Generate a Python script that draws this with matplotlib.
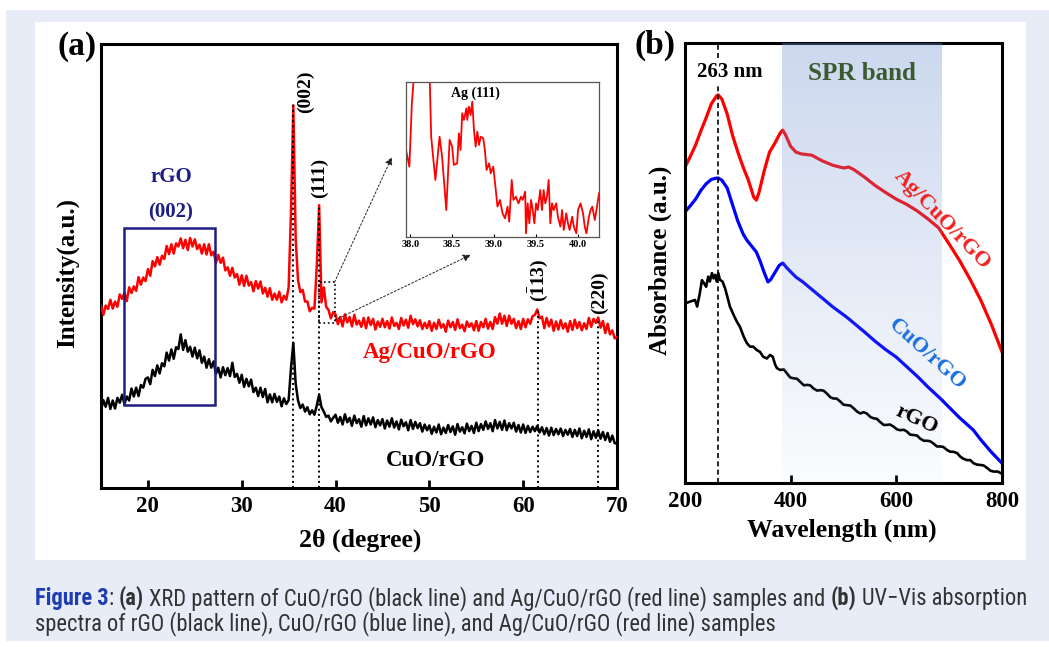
import numpy as np
import matplotlib
matplotlib.use("Agg")
import matplotlib.pyplot as plt
from matplotlib.patches import Rectangle
from matplotlib import font_manager as fm

# ---------------- data ----------------
two_theta = np.round(np.arange(15.0, 70.001, 0.25), 2)

xrd_ag_cuo_rgo = [
    .410, .390, .411, .403, .424, .404, .420, .408, .436, .426, .440, .421, .452, .439, .454, .444, .475, .458, .474, .466,
    .493, .478, .511, .499, .520, .503, .523, .516, .545, .527, .549, .528, .551, .544, .562, .540, .559, .536, .563, .544,
    .560, .538, .548, .528, .549, .526, .549, .524, .532, .507, .525, .507, .519, .490, .497, .478, .496, .474, .482, .458,
    .479, .455, .478, .456, .464, .443, .466, .449, .465, .438, .451, .431, .450, .424, .438, .424, .442, .418, .433, .424,
    .452, .620, .862, .560, .468, .441, .446, .420, .420, .398, .406, .404, .500, .637, .418, .452, .408, .401, .382, .396,
    .391, .369, .385, .364, .391, .373, .385, .364, .390, .368, .377, .363, .383, .360, .384, .367, .381, .357, .375, .363,
    .381, .362, .376, .359, .384, .365, .372, .358, .383, .366, .379, .361, .388, .369, .380, .364, .378, .358, .372, .360,
    .376, .354, .372, .358, .379, .361, .369, .352, .377, .362, .374, .356, .380, .360, .368, .353, .375, .363, .371, .355,
    .376, .354, .374, .362, .381, .359, .374, .358, .385, .370, .393, .370, .388, .365, .388, .370, .381, .360, .376, .358,
    .381, .362, .380, .370, .387, .390, .402, .382, .386, .360, .383, .364, .379, .354, .375, .357, .378, .359, .371, .352,
    .376, .356, .379, .360, .374, .355, .371, .358, .383, .363, .381, .372, .384, .361, .376, .349, .370, .346, .355, .337,
    .340]

xrd_cuo_rgo = [
    .175, .198, .183, .203, .178, .197, .179, .203, .192, .210, .189, .206, .197, .224, .206, .226, .207, .232, .226, .246,
    .249, .234, .266, .252, .276, .258, .281, .274, .305, .287, .312, .291, .317, .313, .346, .311, .333, .307, .318, .296,
    .316, .292, .310, .282, .296, .271, .290, .271, .285, .257, .271, .249, .272, .254, .270, .252, .282, .250, .257, .237,
    .255, .228, .246, .229, .244, .216, .226, .207, .226, .205, .223, .193, .211, .193, .212, .194, .206, .184, .202, .189,
    .198, .270, .327, .235, .197, .180, .188, .172, .182, .166, .175, .165, .186, .210, .182, .172, .160, .163, .150, .158,
    .165, .147, .160, .143, .166, .148, .158, .140, .163, .146, .155, .138, .162, .141, .157, .143, .159, .137, .153, .141,
    .155, .134, .152, .138, .157, .136, .150, .132, .154, .139, .148, .130, .153, .133, .149, .135, .146, .127, .143, .130,
    .141, .122, .138, .125, .143, .121, .136, .124, .142, .126, .139, .120, .144, .127, .137, .123, .145, .128, .140, .124,
    .147, .128, .144, .131, .150, .133, .146, .128, .153, .134, .149, .131, .152, .130, .146, .134, .147, .127, .142, .125,
    .143, .124, .140, .126, .138, .128, .140, .125, .137, .121, .135, .118, .136, .119, .133, .121, .134, .117, .131, .120,
    .133, .115, .131, .117, .134, .112, .129, .115, .132, .110, .128, .113, .130, .111, .126, .108, .124, .104, .118, .101,
    .100]

inset_2theta = [
    37.95, 37.99, 38.02, 38.05, 38.23, 38.25, 38.30, 38.35, 38.38, 38.43,
    38.47, 38.50, 38.52, 38.56, 38.58, 38.60, 38.62, 38.64, 38.67, 38.68,
    38.70, 38.72, 38.74, 38.76, 38.78, 38.80, 38.82, 38.84, 38.87, 38.89,
    38.91, 38.94, 38.96, 38.99, 39.02, 39.04, 39.07, 39.10, 39.13, 39.16,
    39.18, 39.21, 39.23, 39.26, 39.29, 39.32, 39.34, 39.37, 39.38, 39.40,
    39.42, 39.44, 39.46, 39.48, 39.50, 39.52, 39.55, 39.57, 39.59, 39.61,
    39.63, 39.65, 39.67, 39.69, 39.71, 39.74, 39.76, 39.79, 39.81, 39.83,
    39.86, 39.88, 39.90, 39.93, 39.95, 39.98, 40.00, 40.03, 40.06, 40.08,
    40.10, 40.13, 40.15, 40.17, 40.20, 40.22, 40.25]
inset_ag = [
    .561, .454, .862, 1.08, 1.08, .647, .368, .647, .518, .174,
    .626, .583, .465, .475, .669, .561, .798, .755, .830, .755,
    .841, .787, .873, .690, .583, .680, .594, .647, .637, .561,
    .432, .475, .411, .454, .303, .196, .239, .153, .120, .196,
    .099, .368, .239, .260, .217, .260, .239, .292, .024, .217,
    .088, .239, .174, .088, .217, .174, .303, .174, .303, .217,
    .260, .368, .088, .217, .174, .217, .131, .067, .174, .045,
    .153, .088, .045, .131, .067, .024, .174, .217, .153, .067,
    .024, .131, .174, .196, .110, .174, .282]

peak_pos = [35.5, 38.25, 61.6, 68.0]
peak_top = [0.862, 0.637, 0.400, 0.384]
peak_labels = ['(002)', '(111)', r'$\mathbf{(\bar{1}13)}$', '(220)']
xrd_ticks = [20, 30, 40, 50, 60, 70]
inset_ticks = [38.0, 38.5, 39.0, 39.5, 40.0]

uv_red_wl = [200, 210, 220, 230, 240, 250, 260, 263, 270, 280,
             290, 300, 310, 320, 330, 335, 340, 350, 360, 370,
             380, 385, 390, 400, 410, 420, 440, 460, 480, 500,
             510, 520, 540, 560, 580, 600, 620, 640, 660, 680,
             700, 720, 740, 760, 780, 800]
uv_red = [.718, .742, .768, .800, .830, .862, .880, .882, .872, .838,
          .790, .752, .718, .688, .650, .643, .660, .710, .752, .772,
          .795, .802, .792, .765, .752, .748, .745, .732, .722, .716,
          .718, .712, .695, .676, .660, .645, .633, .618, .600, .580,
          .543, .505, .462, .415, .360, .298]

uv_blue_wl = [200, 210, 220, 230, 240, 250, 260, 263, 270, 280,
              290, 300, 310, 317, 325, 335, 342, 350, 357, 362,
              370, 378, 385, 392, 400, 410, 423, 440, 460, 480,
              506, 520, 540, 560, 580, 600, 620, 640, 660, 686,
              700, 720, 746, 760, 780, 800]
uv_blue = [.616, .630, .645, .665, .680, .690, .693, .693, .688, .670,
           .632, .595, .566, .552, .540, .525, .505, .478, .457, .462,
           .478, .494, .500, .490, .480, .468, .457, .440, .420, .400,
           .377, .363, .343, .322, .303, .286, .264, .242, .218, .189,
           .172, .148, .120, .098, .070, .045]

uv_black_wl = [200, 209, 219, 223, 228, 232, 236, 240, 244, 247,
               251, 254, 257, 260, 263, 266, 271, 276, 280, 285,
               292, 298, 304, 311, 317, 323, 329, 336, 342, 348,
               355, 361, 366, 371, 374, 380, 387, 393, 399, 405,
               412, 418, 425, 431, 437, 443, 450, 456, 462, 468,
               475, 481, 487, 494, 500, 506, 513, 519, 526, 532,
               538, 544, 551, 557, 563, 569, 576, 582, 588, 595,
               601, 607, 614, 620, 626, 633, 639, 645, 652, 658,
               664, 670, 677, 683, 689, 696, 702, 708, 715, 721,
               727, 734, 740, 746, 752, 759, 765, 772, 778, 784,
               792, 800]
uv_black = [.408, .412, .416, .401, .431, .461, .454, .446, .469, .458,
            .477, .465, .473, .458, .477, .462, .458, .442, .424, .401,
            .382, .367, .355, .333, .318, .310, .310, .302, .298, .287,
            .283, .291, .287, .268, .261, .257, .258, .249, .240, .238,
            .237, .230, .222, .223, .222, .215, .210, .211, .210, .204,
            .195, .192, .192, .185, .178, .177, .176, .170, .162, .158,
            .161, .158, .150, .147, .146, .139, .132, .132, .133, .128,
            .122, .120, .121, .117, .110, .109, .108, .101, .096, .096,
            .095, .090, .083, .083, .082, .075, .071, .071, .068, .060,
            .055, .052, .052, .045, .042, .041, .040, .034, .028, .026,
            .026, .021]
uv_ticks = [200, 400, 600, 800]
spr_band = (384, 686)
peak_263 = 263

assert len(xrd_ag_cuo_rgo) == len(two_theta) == len(xrd_cuo_rgo)

# ---------------- style ----------------
W, H = 1049, 647
SERIF = ['Liberation Serif', 'DejaVu Serif']
plt.rcParams['font.family'] = SERIF
plt.rcParams['mathtext.fontset'] = 'custom'
plt.rcParams['mathtext.rm'] = 'Liberation Serif'
plt.rcParams['mathtext.bf'] = 'Liberation Serif:bold'
NAVY = '#1e1e82'
RED = '#ff0000'
BLUE = '#0000ff'

fig = plt.figure(figsize=(W / 100, H / 100), dpi=100)
fig.patch.set_facecolor('white')


def fx(px):
    return px / W


def fy(py):
    return 1 - py / H


def px_rect(x0, y0, x1, y1, color, z):
    r = Rectangle((fx(x0), fy(y1)), (x1 - x0) / W, (y1 - y0) / H,
                  transform=fig.transFigure, facecolor=color,
                  edgecolor='none', zorder=z)
    fig.add_artist(r)


px_rect(6, 10, W, 641, '#e8ecf6', -20)
px_rect(35, 22, 1026, 560, 'white', -19)


def style_axes(ax, ticks, fs=16.5):
    for s in ax.spines.values():
        s.set_linewidth(2.2)
        s.set_color('black')
    ax.set_xticks(ticks)
    ax.set_xticklabels([str(t) for t in ticks], fontsize=fs, fontweight='bold')
    ax.set_yticks([])
    ax.tick_params(axis='x', direction='in', length=6, width=2, pad=6,
                   top=False)
    ax.set_facecolor('none')


# ---------------- panel (a) ----------------
ax1 = fig.add_axes([fx(101), fy(488), 516 / W, 444 / H])
ax1.plot(two_theta, xrd_ag_cuo_rgo, color=RED, lw=1.8, zorder=3)
ax1.plot(two_theta, xrd_cuo_rgo, color='black', lw=1.8, zorder=3)
ax1.vlines(peak_pos, 0, peak_top, colors='black', linestyles=':', lw=1.4,
           zorder=4)
lab_pos = [(36.8, 0.892), (38.3, 0.698), (61.6, 0.468), (68.1, 0.441)]
for (lx, ly), lab in zip(lab_pos, peak_labels):
    ax1.text(lx, ly, lab, rotation=90, ha='center', va='center',
             fontsize=14, fontweight='bold')
ax1.add_patch(Rectangle((17.4, 0.187), 9.8, 0.399, fill=False,
                        edgecolor=NAVY, lw=1.8, zorder=5))
ax1.text(22.45, 0.700, 'rGO', color=NAVY, fontsize=15, fontweight='bold',
         ha='center', va='center')
ax1.text(22.45, 0.620, '(002)', color=NAVY, fontsize=15, fontweight='bold',
         ha='center', va='center')
ax1.add_patch(Rectangle((38.2, 0.372), 1.7, 0.092, fill=False,
                        edgecolor='black', lw=1.2, ls=':', zorder=5))
arrow_kw = dict(arrowstyle='-|>', ls=(0, (2, 2)), lw=0.7, color='#222222',
                mutation_scale=11, shrinkA=0, shrinkB=0)
ax1.annotate('', xy=(46.0, 0.745), xytext=(39.9, 0.464), arrowprops=arrow_kw)
ax1.annotate('', xy=(54.4, 0.525), xytext=(39.9, 0.378), arrowprops=arrow_kw)
ax1.text(50.0, 0.306, 'Ag/CuO/rGO', color=RED, fontsize=16.5,
         fontweight='bold', ha='center', va='center')
ax1.text(50.7, 0.061, 'CuO/rGO', color='black', fontsize=16.5,
         fontweight='bold', ha='center', va='center')
ax1.set_xlim(15, 70)
ax1.set_ylim(0, 1)
style_axes(ax1, xrd_ticks)

# inset
axi = fig.add_axes([fx(406), fy(237), 193 / W, 155 / H])
axi.plot(inset_2theta, inset_ag, color=RED, lw=1.3)
axi.set_xlim(37.95, 40.25)
axi.set_ylim(0, 1)
axi.set_xticks(inset_ticks)
axi.set_xticklabels(['%.1f' % t for t in inset_ticks], fontsize=7.5,
                    fontweight='bold')
axi.set_yticks([])
axi.tick_params(axis='x', direction='in', length=2, width=0.8, pad=2)
for s in axi.spines.values():
    s.set_linewidth(0.9)
    s.set_color('#555555')
axi.text(38.78, 0.93, 'Ag (111)', fontsize=10, fontweight='bold',
         ha='center', va='center')

# ---------------- panel (b) ----------------
ax2 = fig.add_axes([fx(685), fy(483), 317 / W, 440 / H])
ax2.plot(uv_red_wl, uv_red, color=RED, lw=2.3, zorder=2)
ax2.plot(uv_blue_wl, uv_blue, color=BLUE, lw=2.3, zorder=2)
ax2.plot(uv_black_wl, uv_black, color='black', lw=1.9, zorder=2)
ax2.axvline(peak_263, color='black', ls=(0, (3, 2)), lw=1.2, zorder=2)

grad = np.zeros((200, 1, 4))
grad[:, 0, 0] = 0.45
grad[:, 0, 1] = 0.58
grad[:, 0, 2] = 0.82
grad[:, 0, 3] = np.linspace(0.36, 0.03, 200)
ax2.imshow(grad, extent=[spr_band[0], spr_band[1], 0, 1], aspect='auto',
           origin='upper', zorder=3, interpolation='bilinear')

ax2.text(284, 0.934, '263 nm', fontsize=15, fontweight='bold', ha='center',
         va='center', zorder=6,
         bbox=dict(facecolor='white', edgecolor='none', pad=1))
ax2.text(535, 0.93, 'SPR band', fontsize=18, fontweight='bold',
         color='#3c5a32', ha='center', va='center', zorder=6)
ax2.text(686, 0.598, 'Ag/CuO/rGO', fontsize=16, fontweight='bold',
         color='#ee2222', rotation=-46, rotation_mode='anchor',
         ha='center', va='center', zorder=6)
ax2.text(658, 0.291, 'CuO/rGO', fontsize=16, fontweight='bold',
         color='#1b6fe0', rotation=-42, rotation_mode='anchor',
         ha='center', va='center', zorder=6)
ax2.text(639, 0.143, 'rGO', fontsize=16, fontweight='bold',
         color='black', rotation=-25, rotation_mode='anchor',
         ha='center', va='center', zorder=6)
ax2.set_xlim(200, 800)
ax2.set_ylim(0, 1)
style_axes(ax2, uv_ticks)

# ---------------- axis labels / panel letters ----------------
fig.text(fx(67), fy(273), 'Intensity(a.u.)', rotation=90, fontsize=18,
         fontweight='bold', ha='center', va='center')
fig.text(fx(360), fy(540), '2θ (degree)', fontsize=18.5, fontweight='bold',
         ha='center', va='center')
fig.text(fx(660), fy(260), 'Absorbance (a.u.)', rotation=90, fontsize=18,
         fontweight='bold', ha='center', va='center')
fig.text(fx(842), fy(530), 'Wavelength (nm)', fontsize=18.5,
         fontweight='bold', ha='center', va='center')
fig.text(fx(77), fy(46), '(a)', fontsize=24, fontweight='bold',
         ha='center', va='center')
fig.text(fx(655), fy(45), '(b)', fontsize=24, fontweight='bold',
         ha='center', va='center')

# ---------------- caption ----------------
names = {f.name for f in fm.fontManager.ttflist}
cap_font = 'DejaVu Sans'
for cand in ['Liberation Sans Narrow', 'Roboto Condensed',
             'Open Sans Condensed', 'Roboto', 'Noto Sans']:
    if cand in names:
        cap_font = cand
        break
CAP_BLUE = '#1e3cb4'
CAP_GREY = '#333333'
cap1 = [("Figure 3", 'bold', CAP_BLUE, False),
        (":", 'normal', CAP_GREY, False),
        ("(a)", 'bold', CAP_GREY, True),
        ("XRD pattern of CuO/rGO (black line) and Ag/CuO/rGO (red line) samples and",
         'normal', CAP_GREY, True),
        ("(b)", 'bold', CAP_GREY, True),
        ("UV\u2212Vis absorption", 'normal', CAP_GREY, True)]
cap2 = [("spectra of rGO (black line), CuO/rGO (blue line), and Ag/CuO/rGO (red line) samples",
         'normal', CAP_GREY, False)]

renderer = fig.canvas.get_renderer()


def text_w(s, size, weight):
    t = fig.text(0, 0, s, fontsize=size, fontweight=weight,
                 family=[cap_font, 'DejaVu Sans'])
    w = t.get_window_extent(renderer).width
    t.remove()
    return w


def line_width(pieces, size):
    sp = text_w('n n', size, 'normal') - text_w('nn', size, 'normal')
    tot = 0
    for s, wt, c, gap in pieces:
        if gap:
            tot += sp
        tot += text_w(s, size, wt)
    return tot


def draw_line(pieces, x0, ybase, size):
    sp = text_w('n n', size, 'normal') - text_w('nn', size, 'normal')
    x = x0
    for s, wt, c, gap in pieces:
        if gap:
            x += sp
        t = fig.text(fx(x), fy(ybase), s, fontsize=size, fontweight=wt,
                     color=c, family=[cap_font, 'DejaVu Sans'],
                     ha='left', va='baseline')
        x += t.get_window_extent(renderer).width


base = 12.0
w1 = line_width(cap1, base)
cap_size = base * 993.0 / w1
draw_line(cap1, 35, 605, cap_size)
draw_line(cap2, 35, 630, cap_size)

fig.savefig('out.png', dpi=100, facecolor=fig.get_facecolor())
